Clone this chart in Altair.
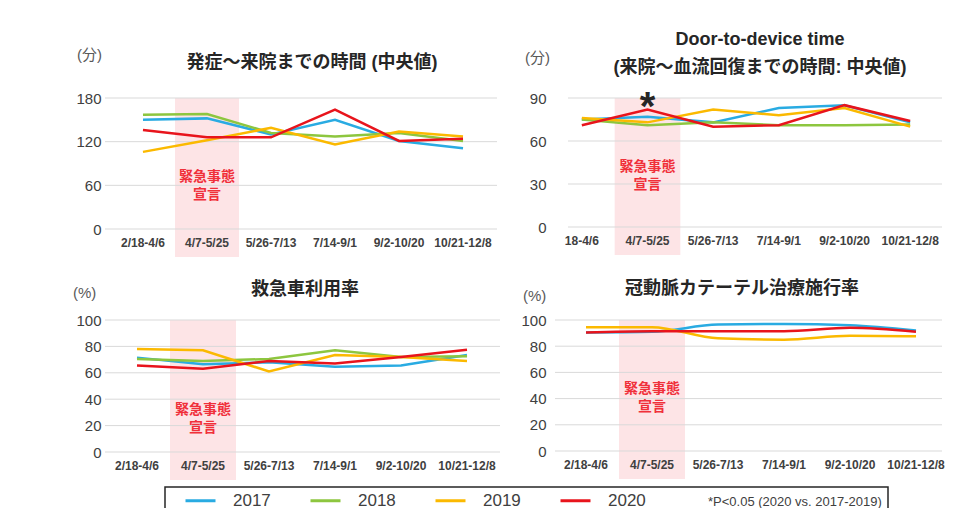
import altair as alt
import pandas as pd

# ---------------- data ----------------
PERIODS = ["2/18-4/6", "4/7-5/25", "5/26-7/13", "7/14-9/1", "9/2-10/20", "10/21-12/8"]
PERIODS_DTD = ["18-4/6", "4/7-5/25", "5/26-7/13", "7/14-9/1", "9/2-10/20", "10/21-12/8"]
EMERGENCY = "4/7-5/25"
YEARS = ["2017", "2018", "2019", "2020"]
COLORS = ["#29abe2", "#8dc63f", "#fbb900", "#e8141c"]

# 発症～来院までの時間 (中央値) [分]
ONSET_2017 = [150, 152, 130, 150, 121, 111]
ONSET_2018 = [157, 158, 132, 127, 132, 121]
ONSET_2019 = [106, 122, 139, 116, 134, 127]
ONSET_2020 = [136, 126, 126, 164, 121, 124]
ONSET_TICKS = [0, 60, 120, 180]

# Door-to-device time [分]
DTD_2017 = [75, 77, 73, 83, 85, 73]
DTD_2018 = [75, 71, 73, 71, 71, 71.5]
DTD_2019 = [76, 73, 82, 78, 83, 70]
DTD_2020 = [71, 82, 70, 71, 85, 74]
DTD_TICKS = [0, 30, 60, 90]

# 救急車利用率 [%]
AMB_2017 = [71.5, 66.5, 68, 64.5, 65.5, 73.5]
AMB_2018 = [70.5, 69, 70.5, 77, 72, 72.5]
AMB_2019 = [78, 77, 61, 73.5, 72, 69]
AMB_2020 = [65.5, 63, 69, 67, 72, 77.5]
PCT_TICKS = [0, 20, 40, 60, 80, 100]

# 冠動脈カテーテル治療施行率 [%]
PCI_2017 = [90.5, 91, 96.5, 97, 96, 92]
PCI_2019 = [94.5, 94.5, 86, 85, 88, 87.5]
PCI_2020 = [90.5, 91.5, 91.5, 91.5, 94, 91]

FONT = "Liberation Sans, Noto Sans CJK JP, sans-serif"
TXT = "#404040"


def long_df(periods, series):
    rows = []
    for year, vals in series.items():
        for p, v in zip(periods, vals):
            rows.append({"period": p, "year": year, "value": v})
    return pd.DataFrame(rows)


LEGEND = alt.Legend(
    orient="none", legendX=80, legendY=386, direction="horizontal",
    title="*P<0.05 (2020 vs. 2017-2019)", titleOrient="right",
    titleFontWeight="normal", titleFontSize=13, titleColor=TXT, titleFont=FONT,
    titlePadding=62, titleAnchor="middle", titleBaseline="top", titleLimit=400,
    labelFontSize=17, labelColor=TXT, labelFont=FONT,
    symbolType="stroke", symbolSize=900, symbolStrokeWidth=3,
    labelOffset=16, columnPadding=33, padding=0,
)


def panel(periods, series, ticks, ymax, W, H, po, gx0, gx1, titles, unit, unit_xy,
          note_y, interp="linear", star=False, extra=None):
    xscale = alt.Scale(type="band", domain=periods, paddingInner=0, paddingOuter=po)
    xaxis = alt.Axis(title=None, domain=False, ticks=False, labelAngle=0,
                     labelFontWeight="bold", labelFontSize=12, labelColor=TXT,
                     labelFont=FONT, labelPadding=8)
    yscale = alt.Scale(domain=[0, ymax], nice=False, zero=True)
    yaxis = alt.Axis(title=None, domain=False, ticks=False, grid=False, values=ticks,
                     labelFontSize=15, labelColor=TXT, labelFont=FONT, labelPadding=3)

    em = pd.DataFrame({"period": [EMERGENCY], "note": ["緊急事態\n宣言"], "star": ["*"]})

    shade = alt.Chart(em).mark_rect(color="#fde4e6").encode(
        x=alt.X("period:N", scale=xscale, axis=xaxis),
        y=alt.value(0), y2=alt.value(H + 28),
    )
    grid = alt.Chart(pd.DataFrame({"v": ticks})).mark_rule(color="#d9d9d9", strokeWidth=1).encode(
        y=alt.Y("v:Q", scale=yscale, axis=yaxis),
        x=alt.value(gx0), x2=alt.value(gx1),
    )
    lines = alt.Chart(long_df(periods, series)).mark_line(strokeWidth=2.5, interpolate=interp).encode(
        x=alt.X("period:N", scale=xscale, axis=xaxis, sort=periods),
        y=alt.Y("value:Q", scale=yscale, axis=yaxis),
        color=alt.Color("year:N", scale=alt.Scale(domain=YEARS, range=COLORS), legend=LEGEND),
    )
    note = alt.Chart(em).mark_text(
        color="#f0303a", fontSize=14, fontWeight="bold", font=FONT, lineBreak="\n",
        baseline="top", lineHeight=18,
    ).encode(x=alt.X("period:N", scale=xscale, axis=xaxis), y=alt.value(note_y), text="note:N")

    layers = [shade, grid, lines, note]
    for (tx, ty, t) in titles:
        layers.append(
            alt.Chart(pd.DataFrame({"t": [t]})).mark_text(
                fontSize=18, fontWeight="bold", font=FONT, color="#262626", baseline="middle"
            ).encode(x=alt.value(tx), y=alt.value(ty), text="t:N")
        )
    layers.append(
        alt.Chart(pd.DataFrame({"t": [unit]})).mark_text(
            fontSize=15, font=FONT, color="#595959", align="left", baseline="middle"
        ).encode(x=alt.value(unit_xy[0]), y=alt.value(unit_xy[1]), text="t:N")
    )
    if star:
        layers.append(
            alt.Chart(em).mark_text(
                fontSize=40, fontWeight="bold", font=FONT, color="#262626", baseline="alphabetic"
            ).encode(x=alt.X("period:N", scale=xscale, axis=xaxis), y=alt.value(22), text="star:N")
        )
    if extra is not None:
        layers.append(extra)
    return alt.layer(*layers).properties(width=W, height=H)


legend_box = alt.Chart(pd.DataFrame({"a": [0]})).mark_rect(
    fill=None, stroke="#262626", strokeWidth=1.5
).encode(x=alt.value(61), x2=alt.value(784), y=alt.value(167), y2=alt.value(200))

p1 = panel(PERIODS, {"2017": ONSET_2017, "2018": ONSET_2018, "2019": ONSET_2019, "2020": ONSET_2020},
           ONSET_TICKS, 180, 398, 131, 0.109, 1, 393,
           [(208, -35, "発症～来院までの時間 (中央値)")], "(分)", (-27, -43), 72)
p2 = panel(PERIODS_DTD, {"2017": DTD_2017, "2018": DTD_2018, "2019": DTD_2019, "2020": DTD_2020},
           DTD_TICKS, 90, 394, 129, 0.0, 19, 393,
           [(211, -58, "Door-to-device time"), (211, -30, "(来院～血流回復までの時間: 中央値)")],
           "(分)", (-24, -40), 62, star=True)
p3 = panel(PERIODS, {"2017": AMB_2017, "2018": AMB_2018, "2019": AMB_2019, "2020": AMB_2020},
           PCT_TICKS, 100, 396, 132, 0.0, 1, 396,
           [(201, -30, "救急車利用率")], "(%)", (-31, -27), 83, extra=legend_box)
p4 = panel(PERIODS, {"2017": PCI_2017, "2019": PCI_2019, "2020": PCI_2020},
           PCT_TICKS, 100, 404, 131, 0.0606, 6, 393,
           [(193, -31, "冠動脈カテーテル治療施行率")], "(%)", (-26, -24), 62, interp="monotone")

chart = alt.concat(p1, p2, p3, p4, columns=2, spacing={"row": 91, "column": 47},
                   bounds="flush").properties(
    padding={"left": 65, "top": 23, "right": 0, "bottom": 0},
    background="white",
).configure_view(strokeWidth=0)

chart.save("out.html", embed_options={"renderer": "svg", "actions": False})
